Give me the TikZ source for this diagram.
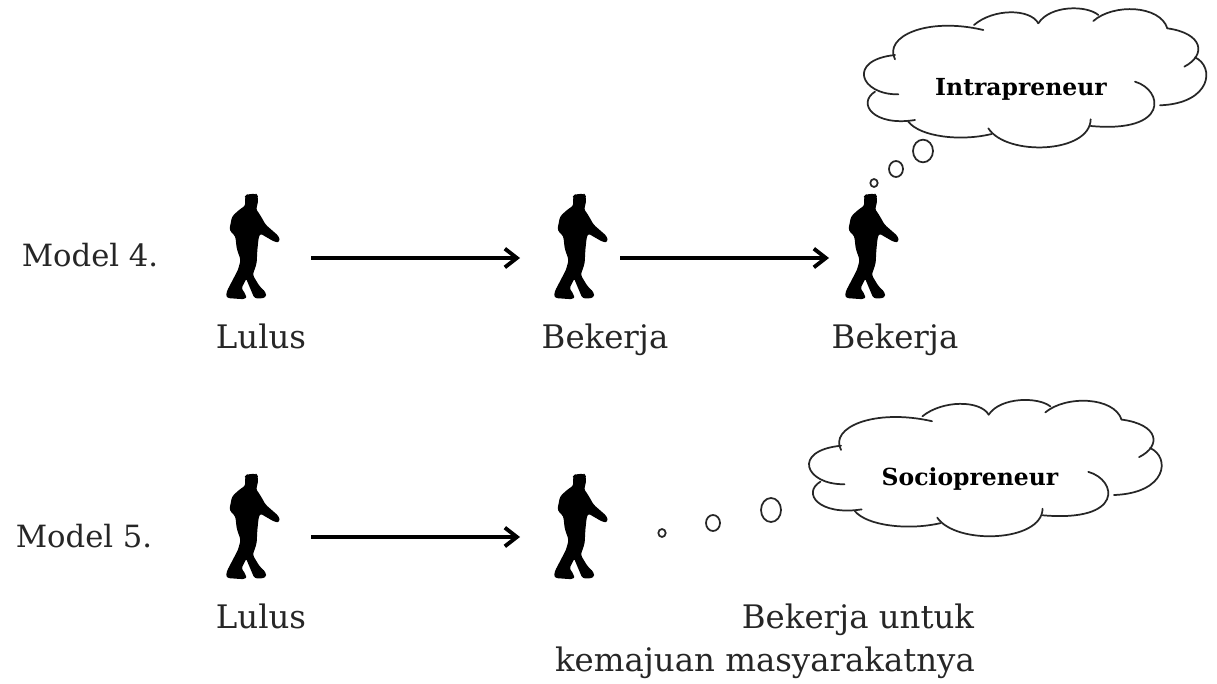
\documentclass[tikz,border=0pt]{standalone}
\usepackage{fontspec}
\setmainfont{DejaVu Serif}
\usetikzlibrary{arrows.meta,shapes.geometric}
\tikzset{
  lbl/.style={inner sep=0pt,anchor=base,font=\fontsize{24.3}{28}\selectfont,text=black!85},
  mdl/.style={inner sep=0pt,anchor=base,font=\fontsize{23}{28}\selectfont,text=black!85},
  cloudtxt/.style={inner sep=0pt,anchor=base,font=\fontsize{17.6}{20}\selectfont\bfseries},
  flow/.style={line width=3.1pt,-{Straight Barb[length=9pt,width=14pt,line width=2.9pt]}},
  bubble/.style={draw=black!85,line width=1.3pt,ellipse,inner sep=0pt},
  person/.pic={
    \filldraw[black,line width=1pt,line join=round,rounded corners=2pt,scale=1/3]
      (112,45)--(138,43)--(142,50)--(141,75)--(135,86)--(150,108)--(165,135)--(205,170)--(208,185)--(195,184)
      --(150,158)--(144,172)--(140,210)--(138,250)--(126,285)--(147,320)--(166,338)--(166,352)
      --(135,354)--(113,302)--(109,292)--(92,325)--(106,345)--(106,356)--(50,352)--(52,335)
      --(86,270)--(94,240)--(82,205)--(78,168)--(60,150)--(68,110)--(90,90)--(108,78)--(107,50)--cycle;
  },
  cloud/.pic={
    \begin{scope}[scale=1/3,draw=black!85,line width=1.3pt,line cap=round]
    \draw (135,178) .. controls (100,110) and (230,50) .. (400,90);
    \draw (372,75) .. controls (430,25) and (540,25) .. (565,70);
    \draw (565,70) .. controls (600,15) and (710,15) .. (745,45);
    \draw (730,63) .. controls (790,10) and (930,15) .. (952,85);
    \draw (952,85) .. controls (1060,100) and (1070,165) .. (1003,200);
    \draw (1035,172) .. controls (1095,200) and (1085,310) .. (930,316);
    \draw (855,245) .. controls (940,270) and (960,400) .. (722,378);
    \draw (722,358) .. controls (720,460) and (470,470) .. (415,385);
    \draw (425,402) .. controls (330,425) and (210,410) .. (175,365);
    \draw (195,360) .. controls (70,380) and (20,310) .. (75,275);
    \draw (145,283) .. controls (30,285) and (-10,180) .. (135,165);
    \end{scope}
  }
}
\begin{document}
\begin{tikzpicture}[x=0.75pt,y=-0.75pt]
\useasboundingbox (0,0) rectangle (1217,684);
\fill[white] (0,0) rectangle (1217,684);
% figures
\pic at (210,180) {person};
\pic at (538,180) {person};
\pic at (829,180) {person};
\pic at (210,460) {person};
\pic at (538,460) {person};
% connector ends
\coordinate (a1) at (311,258); \coordinate (a2) at (520,258);
\coordinate (b1) at (620,258); \coordinate (b2) at (829,258);
\coordinate (c1) at (311,537); \coordinate (c2) at (520,537);
\draw[flow] (a1) -- (a2);
\draw[flow] (b1) -- (b2);
\draw[flow] (c1) -- (c2);
% clouds
\pic at (850,0) {cloud};
\pic[xscale=1.03,yscale=0.98] at (794.7,391.8) {cloud};
\node[cloudtxt] (intra) at (1021,96) {Intrapreneur};
\node[cloudtxt] (socio) at (970,485) {Sociopreneur};
% thought bubbles
\node[bubble,minimum width=15pt,minimum height=17pt] (i1) at (923,151) {};
\node[bubble,minimum width=10.5pt,minimum height=12pt] (i2) at (896,169) {};
\node[bubble,minimum width=5.5pt,minimum height=6pt] (i3) at (874,183) {};
\node[bubble,minimum width=15pt,minimum height=18pt] (s1) at (771,510) {};
\node[bubble,minimum width=10.5pt,minimum height=12pt] (s2) at (713,523) {};
\node[bubble,minimum width=5.5pt,minimum height=6pt] (s3) at (662,533) {};
% labels
\node[mdl] (m4) at (90,267) {Model 4.};
\node[lbl] (l1) at (261,349) {Lulus};
\node[lbl] (k1) at (605,349) {Bekerja};
\node[lbl] (k2) at (895,349) {Bekerja};
\node[mdl] (m5) at (84,547) {Model 5.};
\node[lbl] (l2) at (261,628) {Lulus};
\node[lbl] (k3) at (858,628) {Bekerja untuk};
\node[lbl] (k4) at (765,671) {kemajuan masyarakatnya};
\end{tikzpicture}
\end{document}
